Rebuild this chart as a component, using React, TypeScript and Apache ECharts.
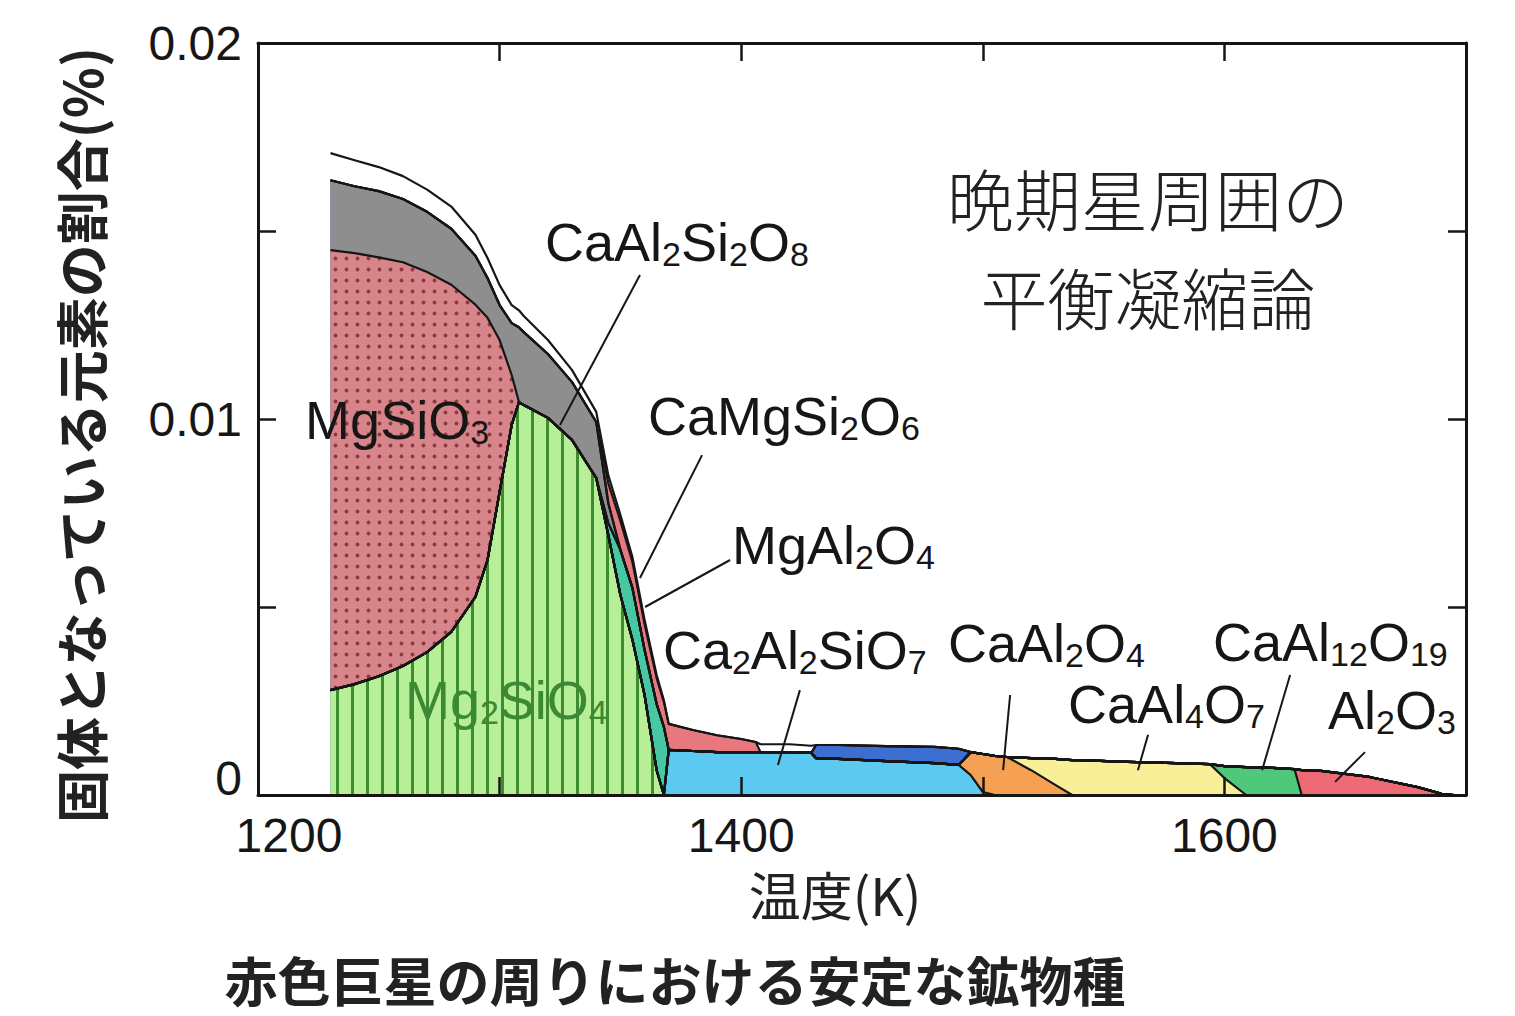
import React, { useEffect, useRef } from 'react';
import * as echarts from 'echarts';

// Temperature grid (K)
const temps = [1230, 1240, 1250, 1260, 1270, 1280, 1290, 1295, 1300, 1305, 1308, 1310, 1320, 1330, 1340, 1345, 1350, 1355, 1360, 1365, 1368, 1370, 1380, 1390, 1400, 1406, 1408, 1420, 1429, 1431, 1440, 1460, 1480, 1490, 1495, 1500, 1505, 1510, 1520, 1530, 1537, 1540, 1560, 1580, 1594, 1600, 1609, 1620, 1629, 1632, 1640, 1660, 1680, 1690, 1695];

// Thickness of each layer (% of elements in solids), [T, value]; unlisted T -> 0
const mg2sio4 = [[1230, 0.00279], [1240, 0.00295], [1250, 0.00316], [1260, 0.00343], [1270, 0.0038], [1280, 0.00434], [1290, 0.00527], [1295, 0.00625], [1300, 0.00806], [1305, 0.00984], [1308, 0.01045], [1310, 0.01037], [1320, 0.01003], [1330, 0.00944], [1340, 0.00843], [1345, 0.00691], [1350, 0.00532], [1355, 0.00412], [1360, 0.00266], [1365, 0.00066]];
const ca2al2sio7 = [[1370, 0.0012], [1380, 0.00117], [1390, 0.00114], [1400, 0.00114], [1406, 0.00114], [1408, 0.00114], [1420, 0.00114], [1429, 0.00112], [1431, 0.00098], [1440, 0.00096], [1460, 0.0009], [1480, 0.00085], [1490, 0.0008], [1495, 0.00053], [1500, 0.00008]];
const caal2o4 = [[1495, 0.00061], [1500, 0.00101], [1505, 0.00104], [1510, 0.00101], [1520, 0.00066], [1530, 0.00027]];
const caal4o7 = [[1520, 0.00032], [1530, 0.00069], [1537, 0.00093], [1540, 0.00093], [1560, 0.00088], [1580, 0.00085], [1594, 0.00082], [1600, 0.00045]];
const caal12o19 = [[1600, 0.00032], [1609, 0.00074], [1620, 0.00072], [1629, 0.00069]];
const al2o3 = [[1632, 0.00066], [1640, 0.00064], [1660, 0.00048], [1680, 0.00021], [1690, 0.00003]];
const tealBand = [[1345, 0.00032], [1350, 0.0012], [1355, 0.00138], [1360, 0.0012], [1365, 0.00176], [1368, 0.00181]];
const mgsio3 = [[1230, 0.0117], [1240, 0.01146], [1250, 0.01114], [1260, 0.01074], [1270, 0.01011], [1280, 0.00923], [1290, 0.00777], [1295, 0.00644], [1300, 0.00404], [1305, 0.00133]];
const caal2si2o8 = [[1230, 0.00186], [1240, 0.00178], [1250, 0.00176], [1260, 0.00168], [1270, 0.0016], [1280, 0.00149], [1290, 0.0013], [1295, 0.00106], [1300, 0.00093], [1305, 0.00138], [1308, 0.00199], [1310, 0.00194], [1320, 0.0017], [1330, 0.00154], [1340, 0.00149], [1345, 0.00053]];
const blueBand = [[1431, 0.00035], [1440, 0.00037], [1460, 0.0004], [1480, 0.00043], [1490, 0.00043]];
const camgsi2o6 = [[1345, 0.00053], [1350, 0.00077], [1355, 0.00069], [1360, 0.00069], [1365, 0.00069], [1368, 0.00066], [1370, 0.00069], [1380, 0.00056], [1390, 0.00045], [1400, 0.00035], [1406, 0.00027]];
const whiteBand = [[1230, 0.00072], [1240, 0.00069], [1250, 0.00064], [1260, 0.00061], [1270, 0.00059], [1280, 0.00059], [1290, 0.00056], [1295, 0.00053], [1300, 0.00053], [1305, 0.00048], [1308, 0.00045], [1310, 0.00043], [1320, 0.00037], [1330, 0.00032], [1340, 0.00027], [1345, 0.00021], [1350, 0.00016], [1355, 0.00013], [1360, 0.00011], [1365, 0.00008], [1368, 0.00005], [1408, 0.00021], [1420, 0.00021], [1429, 0.00019]];

// Tick labels
const xTickLabels = ['1200', '1400', '1600'];
const yTickLabels = ['0', '0.01', '0.02'];

// Texts
const yTitle = '固体となっている元素の割合(%)';
const xTitle = '温度(K)';
const caption = '赤色巨星の周りにおける安定な鉱物種';
const insetTitle = ['晩期星周囲の', '平衡凝縮論'];

// Annotation labels (data coordinates: [T, value])
const annotations = [
  { text: 'CaAl{s|2}Si{s|2}O{s|8}', at: [1318.8, 0.01471], from: [1358.1, 0.01383], to: [1325.0, 0.00984] },
  { text: 'MgSiO{s|3}', at: [1219.5, 0.00997] },
  { text: 'CaMgSi{s|2}O{s|6}', at: [1361.4, 0.01008], from: [1383.8, 0.00904], to: [1358.1, 0.00577] },
  { text: 'MgAl{s|2}O{s|4}', at: [1396.2, 0.00665], from: [1395.4, 0.00625], to: [1360.2, 0.005] },
  { text: 'Ca{s|2}Al{s|2}SiO{s|7}', at: [1367.6, 0.00386], from: [1424.3, 0.00279], to: [1415.2, 0.0008] },
  { text: 'CaAl{s|2}O{s|4}', at: [1485.6, 0.00404], from: [1511.3, 0.00266], to: [1508.4, 0.00066] },
  { text: 'CaAl{s|12}O{s|19}', at: [1595.3, 0.00407], from: [1627.2, 0.00319], to: [1615.6, 0.00066] },
  { text: 'CaAl{s|4}O{s|7}', at: [1535.3, 0.00242], from: [1568.4, 0.0016], to: [1564.2, 0.00066] },
  { text: 'Al{s|2}O{s|3}', at: [1642.9, 0.00226], from: [1658.2, 0.00114], to: [1645.8, 0.00035] },
  { text: 'Mg{s|2}SiO{s|4}', at: [1260.8, 0.00253], green: true },
];

const LATIN = '"Liberation Sans", Arial, Helvetica, sans-serif';
const CJK = '"Noto Sans CJK JP", "Noto Sans CJK SC", sans-serif';
const INK = '#161616';

function makePattern(kind: string): any {
  const c = document.createElement('canvas');
  if (kind === 'stripes') {
    c.width = 15; c.height = 10;
    const g = c.getContext('2d')!;
    g.fillStyle = '#b7ee98'; g.fillRect(0, 0, 15, 10);
    g.fillStyle = '#3e8c2f'; g.fillRect(6, 0, 3, 10);
  } else {
    c.width = 11; c.height = 11;
    const g = c.getContext('2d')!;
    g.fillStyle = '#d7858a'; g.fillRect(0, 0, 11, 11);
    g.fillStyle = '#8a3b40'; g.beginPath(); g.arc(5.5, 5.5, 1.9, 0, Math.PI * 2); g.fill();
  }
  return { image: c, repeat: 'repeat' };
}

// Layers from bottom to top
const layers: { name: string; data: number[][]; fill: string }[] = [
  { name: 'Mg2SiO4', data: mg2sio4, fill: 'stripes' },
  { name: 'Ca2Al2SiO7', data: ca2al2sio7, fill: '#5cc9f0' },
  { name: 'CaAl2O4', data: caal2o4, fill: '#f5a052' },
  { name: 'CaAl4O7', data: caal4o7, fill: '#f9ef98' },
  { name: 'CaAl12O19', data: caal12o19, fill: '#50c87c' },
  { name: 'Al2O3', data: al2o3, fill: '#ee6a75' },
  { name: 'teal band', data: tealBand, fill: '#46c8a2' },
  { name: 'MgSiO3', data: mgsio3, fill: 'dots' },
  { name: 'CaAl2Si2O8', data: caal2si2o8, fill: '#8e8e8e' },
  { name: 'blue band', data: blueBand, fill: '#3d6fd2' },
  { name: 'CaMgSi2O6', data: camgsi2o6, fill: '#e6787e' },
  { name: 'white band', data: whiteBand, fill: '#ffffff' },
];

function valueAt(pairs: number[][], t: number) {
  const p = pairs.find((d) => d[0] === t);
  return p ? p[1] : 0;
}

export default function App() {
  const ref = useRef<HTMLDivElement>(null);
  useEffect(() => {
    document.body.style.margin = '0';
    document.body.style.overflow = 'hidden';
    const chart = echarts.init(ref.current!, null, { renderer: 'svg' });
    const frameLine = { show: true, onZero: false, lineStyle: { color: INK, width: 3 } };
    const tick = { show: true, inside: true, length: 18, lineStyle: { color: INK, width: 2.5 } };

    // cumulative tops of each layer (manual stacking)
    const running = temps.map(() => 0);
    const cumulative = layers.map((l) =>
      temps.map((t, k) => {
        running[k] += valueAt(l.data, t);
        return [t, running[k]];
      })
    );

    const areaSeries: any[] = [];
    const lineSeries: any[] = [];
    for (let i = layers.length - 1; i >= 0; i--) {
      const l = layers[i];
      const fill = l.fill === 'stripes' || l.fill === 'dots' ? makePattern(l.fill) : l.fill;
      areaSeries.push({
        name: l.name, type: 'line', data: cumulative[i], symbol: 'none', showSymbol: false, silent: true,
        z: 2, lineStyle: { width: 0, opacity: 0 },
        itemStyle: { color: typeof fill === 'string' ? fill : '#b7ee98' },
        areaStyle: { color: fill, opacity: 1 }, emphasis: { disabled: true },
      });
    }
    layers.forEach((l, i) => {
      lineSeries.push({
        name: l.name + ' edge', type: 'line', data: cumulative[i], symbol: 'none', showSymbol: false, silent: true,
        z: 3, lineStyle: { color: INK, width: 2.2, join: 'round' }, itemStyle: { color: INK }, emphasis: { disabled: true },
      });
    });

    const option: any = {
      animation: false,
      backgroundColor: '#ffffff',
      grid: { left: 258, top: 43, width: 1208, height: 752, containLabel: false, outerBoundsMode: 'none' },
      xAxis: [
        {
          type: 'value', min: 1200, max: 1700, interval: 100, position: 'bottom',
          axisLine: frameLine, axisTick: tick, splitLine: { show: false }, z: 5,
          axisLabel: {
            margin: 16, fontSize: 48, color: INK, fontFamily: LATIN,
            formatter: (v: number) => {
              const s = String(Math.round(v));
              if (!xTickLabels.includes(s)) return '';
              return s === xTickLabels[0] ? '{first|' + s + '}' : s;
            },
            rich: { first: { fontSize: 48, color: INK, fontFamily: LATIN, padding: [0, 0, 0, 62] } },
          },
        },
        {
          type: 'value', min: 1200, max: 1700, interval: 100, position: 'top',
          axisLine: frameLine, axisTick: tick, splitLine: { show: false }, axisLabel: { show: false }, z: 5,
        },
      ],
      yAxis: [
        {
          type: 'value', min: 0, max: 0.02, interval: 0.005, position: 'left',
          axisLine: frameLine, axisTick: tick, splitLine: { show: false }, z: 5,
          axisLabel: {
            margin: 16, fontSize: 48, color: INK, fontFamily: LATIN,
            formatter: (v: number) => {
              const k = Math.round(v * 100);
              if (Math.abs(v * 100 - k) > 1e-6) return '';
              const s = yTickLabels[k];
              if (s === undefined) return '';
              return k === 0 ? '{zero|' + s + '}' : s;
            },
            rich: { zero: { fontSize: 48, color: INK, fontFamily: LATIN, padding: [0, 0, 34, 0] } },
          },
        },
        {
          type: 'value', min: 0, max: 0.02, interval: 0.005, position: 'right',
          axisLine: frameLine, axisTick: tick, splitLine: { show: false }, axisLabel: { show: false }, z: 5,
        },
      ],
      series: [...areaSeries, ...lineSeries],
    };
    chart.setOption(option);

    const sub = (color: string) => ({ fontSize: 34, lineHeight: 22, padding: [24, 0, 0, 0], fontFamily: LATIN, fill: color, color });
    const graphics: any[] = [];
    annotations.forEach((a) => {
      const color = a.green ? '#3b8a33' : INK;
      const p = chart.convertToPixel({ xAxisIndex: 0, yAxisIndex: 0 }, a.at as number[]) as number[];
      graphics.push({
        type: 'text', x: p[0], y: p[1], silent: true, z: 100,
        style: {
          text: a.text, fontSize: 54, lineHeight: 46, fontFamily: LATIN, fill: color,
          align: 'left', textAlign: 'left', verticalAlign: 'middle', textVerticalAlign: 'middle',
          rich: { s: sub(color) },
        },
      });
      if (a.from && a.to) {
        const f = chart.convertToPixel({ xAxisIndex: 0, yAxisIndex: 0 }, a.from as number[]) as number[];
        const t = chart.convertToPixel({ xAxisIndex: 0, yAxisIndex: 0 }, a.to as number[]) as number[];
        graphics.push({
          type: 'line', silent: true, z: 100,
          shape: { x1: f[0], y1: f[1], x2: t[0], y2: t[1] },
          style: { stroke: INK, lineWidth: 2 },
        });
      }
    });
    const centered = { align: 'center', textAlign: 'center', verticalAlign: 'middle', textVerticalAlign: 'middle' };
    graphics.push(
      { type: 'text', x: 80, y: 435, rotation: Math.PI / 2, silent: true, style: { text: yTitle, fontSize: 53, fontWeight: 'bold', fontFamily: CJK, fill: '#222', ...centered } },
      { type: 'text', x: 835, y: 893, silent: true, style: { text: xTitle, fontSize: 52, fontFamily: CJK, fill: '#222', ...centered } },
      { type: 'text', x: 675, y: 979, silent: true, style: { text: caption, fontSize: 53, fontWeight: 'bold', fontFamily: CJK, fill: '#222', ...centered } },
      { type: 'text', x: 1148, y: 246, silent: true, style: { text: insetTitle.join('\n'), fontSize: 67, lineHeight: 99, fontWeight: 300, fontFamily: CJK, fill: '#222', ...centered } },
    );
    chart.setOption({ graphic: { elements: graphics } });
    return () => chart.dispose();
  }, []);
  return <div ref={ref} style={{ width: 1515, height: 1016 }} />;
}
